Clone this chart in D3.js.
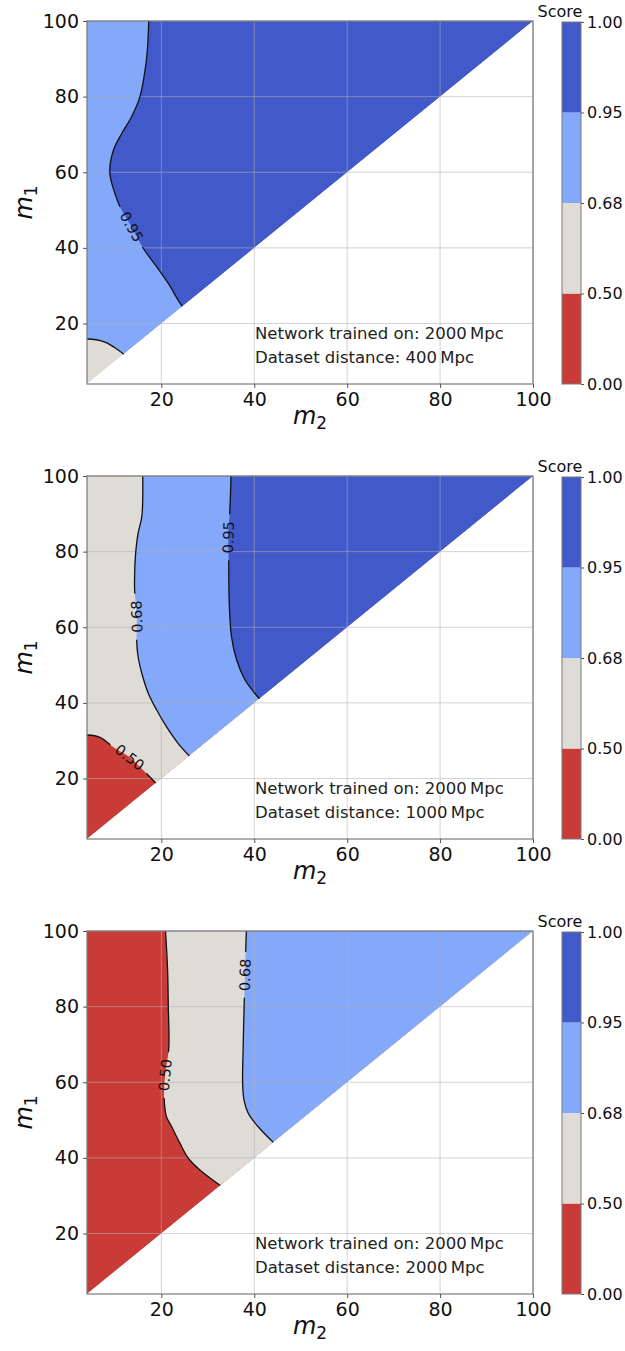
<!DOCTYPE html>
<html>
<head>
<meta charset="utf-8">
<style>
  body { margin: 0; background: #fff; }
  svg { display: block; font-family: 'DejaVu Sans', sans-serif; }
</style>
</head>
<body>
<svg id="chart" width="625" height="1351"></svg>
<script src="https://cdn.jsdelivr.net/npm/d3@7"></script>
<script>
/* globals d3 */
// score bands (contourf levels) and their colours, low -> high
const levels = [0, 0.5, 0.68, 0.95, 1.0]
const levelLabels = ['0.00', '0.50', '0.68', '0.95', '1.00']
const bandColors = ['#c83b37', '#dfdbd7', '#84a8fa', '#4259c9']
const massTicks = [20, 40, 60, 80, 100]
const massRange = [4, 100]

// contour lines as [m2, m1], traced from the top / left edge down to the m1 = m2 diagonal
const p1Contour068 = [[4, 15.9], [6, 15.7], [8, 15.0], [10, 13.6], [11.9, 11.9]]
const p1Contour095 = [[17.3, 100], [17.0, 92.4], [16.6, 87.9], [15.4, 80], [13.6, 74.7], [11.5, 70.3],
  [9.7, 65.9], [8.9, 60], [10.0, 54.4], [11.1, 50.9], [13.6, 45.6], [16.1, 39.9], [19.0, 35.0],
  [21.5, 30.6], [23.6, 26.2], [24.5, 24.5]]
const p1Label095 = [13.6, 45.6]

const p2Contour050 = [[4, 31.5], [6.8, 30.9], [10, 28], [13.2, 25.6], [16, 22.3], [18.8, 18.8]]
const p2Label050 = [13.2, 25.6]
const p2Contour068 = [[16.0, 100], [15.8, 89.3], [15.0, 84.9], [14.5, 80], [14.3, 76], [14.25, 69.9],
  [14.7, 62.8], [14.7, 56.2], [15.0, 52.2], [16.0, 46.9], [17.2, 42.5], [19.0, 38.1], [21.1, 33.7],
  [23.6, 29.3], [26, 26]]
const p2Label068 = [14.7, 62.8]
const p2Contour095 = [[35.0, 100], [34.75, 91], [34.4, 83.8], [34.5, 77.8], [34.6, 67.2], [35.1, 57.5],
  [36.2, 51.4], [38.0, 46.1], [39.8, 43.0], [41.1, 41.1]]
const p2Label095 = [34.4, 83.8]

const p3Contour050 = [[20.9, 100], [21.35, 89.7], [21.5, 80], [21.6, 69], [20.8, 61.9], [20.6, 55.8],
  [21.1, 50.9], [22.2, 48.3], [24.0, 43.9], [25.8, 39.9], [28.3, 36.8], [32.7, 32.7]]
const p3Label050 = [20.8, 61.9]
const p3Contour068 = [[38.3, 100], [38.0, 88.4], [37.8, 79.1], [37.6, 68.6], [37.5, 59.7], [37.8, 55.3],
  [38.7, 51.8], [40.8, 48.3], [44.1, 44.1]]
const p3Label068 = [38.0, 88.4]

const trainedOn = 'Network trained on: 2000\u2009Mpc'
const datasetDistances = ['400', '1000', '2000']

const panels = [
  { base: 1, dist: datasetDistances[0], contours: [
    { level: 0.68, points: p1Contour068 },
    { level: 0.95, points: p1Contour095, label: p1Label095 }] },
  { base: 0, dist: datasetDistances[1], contours: [
    { level: 0.5, points: p2Contour050, label: p2Label050 },
    { level: 0.68, points: p2Contour068, label: p2Label068 },
    { level: 0.95, points: p2Contour095, label: p2Label095 }] },
  { base: 0, dist: datasetDistances[2], contours: [
    { level: 0.5, points: p3Contour050, label: p3Label050 },
    { level: 0.68, points: p3Contour068, label: p3Label068 }] }
]

const svg = d3.select('#chart')
const left = 87, right = 533, plotH = 363
const tops = [21, 476, 931]
const cbX = 562, cbW = 19

const x = d3.scaleLinear().domain(massRange).range([left, right])

panels.forEach((p, i) => {
  const top = tops[i], bottom = top + plotH
  const y = d3.scaleLinear().domain(massRange).range([bottom, top])
  const px = d => [x(d[0]), y(d[1])]
  const g = svg.append('g')
  const curve = d3.line().curve(d3.curveCatmullRom.alpha(0.5))

  // clip to the m1 >= m2 triangle
  const tri = [[massRange[0], massRange[0]], [massRange[1], massRange[1]], [massRange[0], massRange[1]]]
  g.append('clipPath').attr('id', 'tri' + i)
    .append('path').attr('d', d3.line()(tri.map(px)) + 'Z')

  const fills = g.append('g').attr('clip-path', `url(#tri${i})`)
  fills.append('path')
    .attr('d', d3.line()(tri.map(px)) + 'Z')
    .attr('fill', bandColors[p.base])
  p.contours.forEach(c => {
    const pts = c.points
    const corners = [[massRange[1], massRange[1]]]
    if (pts[0][0] === massRange[0]) corners.push([massRange[0], massRange[1]])
    const d = curve(pts.map(px)) + corners.map(k => 'L' + px(k).join(',')).join('') + 'Z'
    fills.append('path').attr('d', d)
      .attr('fill', bandColors[levels.indexOf(c.level)])
  })

  // grid
  const grid = g.append('g').attr('stroke', '#b0b0b0').attr('stroke-opacity', 0.55).attr('stroke-width', 1)
  grid.selectAll('.gx').data(massTicks).join('line')
    .attr('x1', d => x(d)).attr('x2', d => x(d)).attr('y1', top).attr('y2', bottom)
  grid.selectAll('.gy').data(massTicks).join('line')
    .attr('y1', d => y(d)).attr('y2', d => y(d)).attr('x1', left).attr('x2', right)

  // contour lines with gaps under inline labels
  const labelled = p.contours.filter(c => c.label).map(c => {
    const pts = c.points.map(px)
    const lp = px(c.label)
    let j = d3.minIndex(pts, q => (q[0] - lp[0]) ** 2 + (q[1] - lp[1]) ** 2)
    const a = pts[Math.max(j - 1, 0)], b = pts[Math.min(j + 1, pts.length - 1)]
    let ang = Math.atan2(b[1] - a[1], b[0] - a[0]) * 180 / Math.PI
    if (ang > 80) ang -= 180
    if (ang < -100) ang += 180
    return { text: levelLabels[levels.indexOf(c.level)], x: lp[0], y: lp[1], ang }
  })
  const mask = g.append('mask').attr('id', 'gap' + i).attr('maskUnits', 'userSpaceOnUse')
  mask.append('rect').attr('x', 0).attr('y', top - 10).attr('width', 625).attr('height', plotH + 20).attr('fill', '#fff')
  mask.selectAll('rect.gap').data(labelled).join('rect').attr('class', 'gap')
    .attr('x', -23).attr('y', -8).attr('width', 46).attr('height', 16)
    .attr('transform', d => `translate(${d.x},${d.y}) rotate(${d.ang})`)
    .attr('fill', '#000')

  g.append('g').attr('mask', `url(#gap${i})`)
    .selectAll('path').data(p.contours).join('path')
    .attr('d', c => curve(c.points.map(px)))
    .attr('fill', 'none').attr('stroke', '#111').attr('stroke-width', 1.3)

  g.selectAll('text.clabel').data(labelled).join('text').attr('class', 'clabel')
    .attr('transform', d => `translate(${d.x},${d.y}) rotate(${d.ang})`)
    .attr('text-anchor', 'middle').attr('dy', '0.36em')
    .attr('font-size', 14.5).attr('fill', '#111')
    .text(d => d.text)

  // frame
  g.append('rect').attr('x', left).attr('y', top).attr('width', right - left).attr('height', plotH)
    .attr('fill', 'none').attr('stroke', '#7a7a7a').attr('stroke-width', 1.2)

  // axes
  const ax = g.append('g').attr('transform', `translate(0,${bottom})`)
    .call(d3.axisBottom(x).tickValues(massTicks).tickSize(4).tickPadding(5))
  const ay = g.append('g').attr('transform', `translate(${left},0)`)
    .call(d3.axisLeft(y).tickValues(massTicks).tickSize(4).tickPadding(4))
  ;[ax, ay].forEach(a => {
    a.select('.domain').remove()
    a.selectAll('line').attr('stroke', '#555')
    a.selectAll('text').attr('font-size', 19).attr('font-family', 'DejaVu Sans').attr('fill', '#111')
  })

  // axis titles
  const xt = g.append('text').attr('x', (left + right) / 2).attr('y', bottom + 39.5)
    .attr('text-anchor', 'middle').attr('font-size', 24).attr('fill', '#111')
  xt.append('tspan').attr('font-style', 'italic').text('m')
  xt.append('tspan').attr('font-size', 17).attr('dy', 5).text('2')
  const yt = g.append('text').attr('transform', `translate(32,${(top + bottom) / 2}) rotate(-90)`)
    .attr('text-anchor', 'middle').attr('font-size', 24).attr('fill', '#111')
  yt.append('tspan').attr('font-style', 'italic').text('m')
  yt.append('tspan').attr('font-size', 17).attr('dy', 5).text('1')

  // annotation
  const notes = [trainedOn, `Dataset distance: ${p.dist}\u2009Mpc`]
  g.selectAll('text.note').data(notes).join('text').attr('class', 'note')
    .attr('x', 255).attr('y', (d, k) => bottom - 44.7 + k * 24)
    .attr('font-size', 16.5).attr('fill', '#222')
    .text(d => d)

  // colour bar
  const cb = d3.scalePoint().domain(levelLabels).range([bottom, top + 1])
  const bands = d3.pairs(levelLabels).map((pr, k) => ({ lo: pr[0], hi: pr[1], color: bandColors[k] }))
  g.selectAll('rect.band').data(bands).join('rect').attr('class', 'band')
    .attr('x', cbX).attr('width', cbW)
    .attr('y', d => cb(d.hi)).attr('height', d => cb(d.lo) - cb(d.hi))
    .attr('fill', d => d.color)
  g.append('rect').attr('x', cbX).attr('y', top + 1).attr('width', cbW).attr('height', bottom - top - 1)
    .attr('fill', 'none').attr('stroke', '#7a7a7a').attr('stroke-width', 1)
  const ac = g.append('g').attr('transform', `translate(${cbX + cbW},0)`)
    .call(d3.axisRight(cb).tickSize(3).tickPadding(3))
  ac.select('.domain').remove()
  ac.selectAll('line').attr('stroke', '#555')
  ac.selectAll('text').attr('font-size', 16).attr('font-family', 'DejaVu Sans').attr('fill', '#111')
  g.append('text').attr('x', 560).attr('y', top - 4.5).attr('text-anchor', 'middle')
    .attr('font-size', 16).attr('fill', '#111').text('Score')
})
</script>
</body>
</html>
